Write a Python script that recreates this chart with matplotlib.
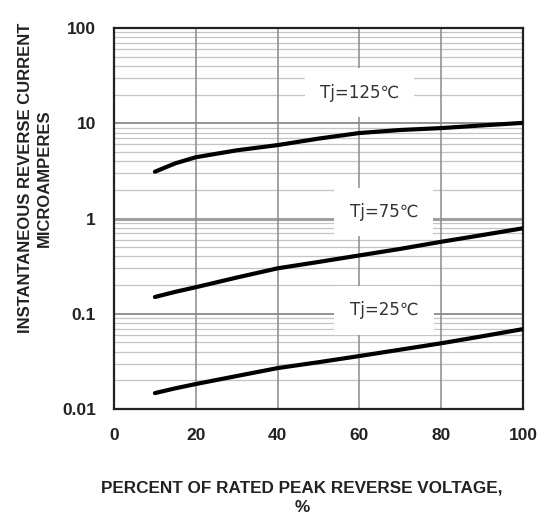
import matplotlib
matplotlib.use('Agg')
import matplotlib.pyplot as plt
import numpy as np

# percent of rated peak reverse voltage
x_pct = [10, 15, 20, 30, 40, 50, 60, 70, 80, 90, 100]
# reverse current, microamperes
i_125 = [3.1, 3.8, 4.4, 5.2, 5.9, 6.9, 7.9, 8.5, 8.9, 9.5, 10.1]
i_75 = [0.15, 0.17, 0.19, 0.24, 0.30, 0.35, 0.41, 0.48, 0.57, 0.67, 0.79]
i_25 = [0.0147, 0.0165, 0.0183, 0.0222, 0.0269, 0.031, 0.036, 0.042, 0.049, 0.058, 0.069]

labels = ['Tj=125\u2103', 'Tj=75\u2103', 'Tj=25\u2103']
label_pos = [(60, 21), (66, 1.17), (66, 0.109)]

x_ticks = [0, 20, 40, 60, 80, 100]
y_ticks = [0.01, 0.1, 1, 10, 100]
y_ticklabels = ['0.01', '0.1', '1', '10', '100']

plt.rcParams['font.family'] = ['Liberation Sans', 'DejaVu Sans']

fig = plt.figure(figsize=(5.49, 5.19), dpi=100)
ax = fig.add_axes([0.2077, 0.2119, 0.7449, 0.7341])

ax.set_yscale('log')
ax.set_xlim(0, 100)
ax.set_ylim(0.01, 100)

# grid lines
for d in [0.01, 0.1, 1, 10]:
    for k in range(2, 10):
        ax.axhline(d * k, color='#c4c4c4', lw=0.9, zorder=1)
ax.axhline(0.1, color='#8a8a8a', lw=1.3, zorder=1)
ax.axhline(1, color='#a0a0a0', lw=2.2, zorder=1)
ax.axhline(10, color='#8a8a8a', lw=1.3, zorder=1)
for xv in [20, 40, 60, 80]:
    ax.axvline(xv, color='#8a8a8a', lw=1.1, zorder=1)

for yv in [i_125, i_75, i_25]:
    ax.plot(x_pct, yv, color='black', lw=3, solid_capstyle='round', zorder=4)

for lab, (tx, ty) in zip(labels, label_pos):
    ax.text(tx, ty, lab, ha='center', va='center', fontsize=12,
            family=['DejaVu Sans'], color='#333333', zorder=3,
            bbox=dict(facecolor='white', edgecolor='none', pad=11))

for s in ax.spines.values():
    s.set_linewidth(1.6)
    s.set_color('#222222')

ax.set_xticks(x_ticks)
ax.set_xticklabels([str(v) for v in x_ticks], fontweight='bold', fontsize=12.5,
                   color='#222222')
ax.set_yticks(y_ticks)
ax.set_yticklabels(y_ticklabels, fontweight='bold', fontsize=12.5, color='#222222')
ax.yaxis.set_minor_locator(matplotlib.ticker.NullLocator())
ax.tick_params(axis='y', length=0, pad=13)
ax.tick_params(axis='x', length=0, pad=14)

fig.text(0.064, 1 - 178 / 519, 'INSTANTANEOUS REVERSE CURRENT\nMICROAMPERES',
         rotation=90, ha='center', va='center', fontweight='bold', fontsize=12,
         linespacing=1.3, color='#222222')
fig.text(302 / 549, 1 - 498 / 519, 'PERCENT OF RATED PEAK REVERSE VOLTAGE,\n%',
         ha='center', va='center', fontweight='bold', fontsize=12.3,
         linespacing=1.4, color='#222222')

fig.savefig('out.png', dpi=100)
